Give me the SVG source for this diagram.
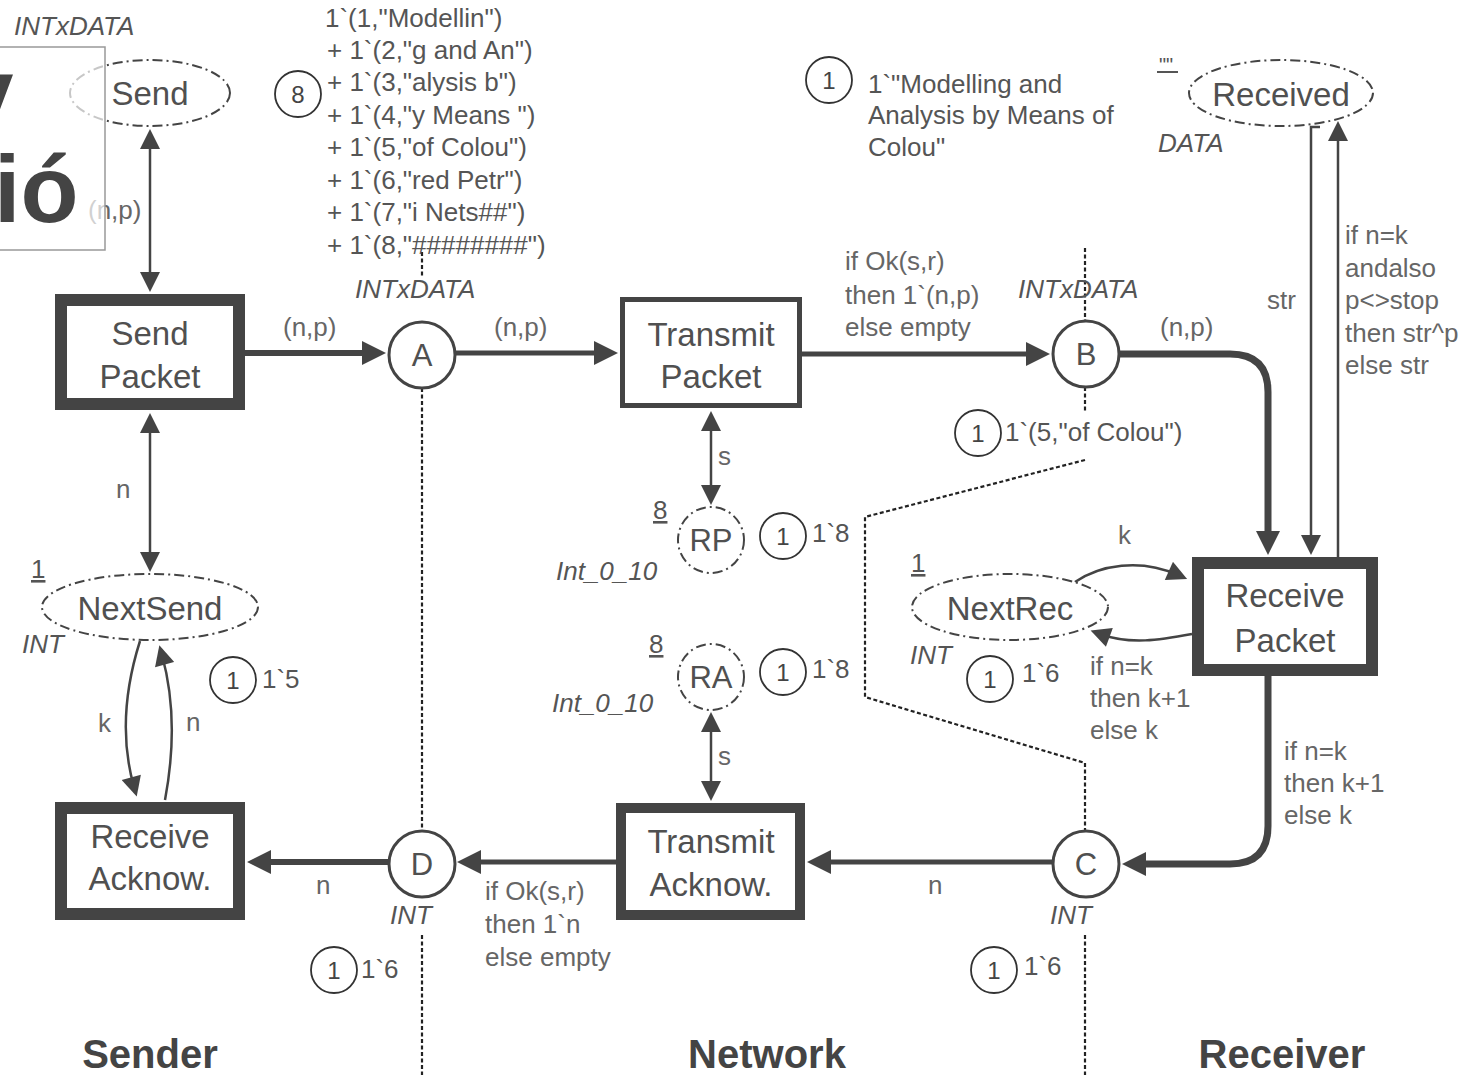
<svg xmlns="http://www.w3.org/2000/svg" width="1475" height="1079" viewBox="0 0 1475 1079">
<style>
text{font-family:"Liberation Sans",Arial,sans-serif;fill:#555}
.nm{font-size:33px;text-anchor:middle;fill:#505050}
.pl{font-size:31px;text-anchor:middle;fill:#505050}
.lb{font-size:26px;fill:#666}
.ty{font-size:26px;font-style:italic;fill:#555}
.tk{font-size:24px;text-anchor:middle;fill:#444}
.mk{font-size:26px;fill:#555}
.hd{font-size:40px;font-weight:bold;text-anchor:middle;fill:#444}
.ul{text-decoration:underline}
.tr{fill:#fff;stroke:#444}
.plc{fill:#fff;stroke:#444;stroke-width:3}
.plx{fill:#fff;stroke:#444;stroke-width:2;stroke-dasharray:10 4 2 4}
.tok{fill:none;stroke:#333;stroke-width:1.8}
.arc{fill:none;stroke:#444}
.dot{fill:none;stroke:#222;stroke-width:2.2;stroke-dasharray:4 2.5}
</style>
<defs>
<marker id="big" viewBox="0 0 10 10" refX="5" refY="5" markerWidth="28" markerHeight="24" markerUnits="userSpaceOnUse" orient="auto-start-reverse"><path d="M0,0 L10,5 L0,10 z" fill="#444"/></marker>
<marker id="sm" viewBox="0 0 10 10" refX="5" refY="5" markerWidth="22" markerHeight="20" markerUnits="userSpaceOnUse" orient="auto-start-reverse"><path d="M0,0 L10,5 L0,10 z" fill="#444"/></marker>
</defs>
<rect width="1475" height="1079" fill="#fff"/>

<g id="dotted">
<path class="dot" d="M422,252 L422,278"/>
<path class="dot" d="M422,388 L422,831"/>
<path class="dot" d="M422,935 L422,1075"/>
<path class="dot" d="M1085,248 L1085,321"/>
<path class="dot" d="M1085,387 L1085,412"/>
<path class="dot" d="M1085,460 L865,517 L865,697 L1085,763 L1085,831"/>
<path class="dot" d="M1085,935 L1085,1075"/>
</g>

<g id="connectors">
<path class="arc" stroke-width="2.5" d="M150,139 L150,282" marker-start="url(#sm)" marker-end="url(#sm)"/>
<path class="arc" stroke-width="2.5" d="M150,423 L150,562" marker-start="url(#sm)" marker-end="url(#sm)"/>
<path class="arc" stroke-width="6" d="M245,353 L374,353" marker-end="url(#big)"/>
<path class="arc" stroke-width="5" d="M455,353 L606,353" marker-end="url(#big)"/>
<path class="arc" stroke-width="5" d="M802,354 L1038,354" marker-end="url(#big)"/>
<path class="arc" stroke-width="7" d="M1119,354 L1230,354 Q1268,354 1268,392 L1268,543" marker-end="url(#big)"/>
<path class="arc" stroke-width="7" d="M1268,676 L1268,826 Q1268,864 1230,864 L1134,864" marker-end="url(#big)"/>
<path class="arc" stroke-width="5" d="M1053,862 L819,862" marker-end="url(#big)"/>
<path class="arc" stroke-width="5" d="M616,862 L469,862" marker-end="url(#big)"/>
<path class="arc" stroke-width="6" d="M389,862 L259,862" marker-end="url(#big)"/>
<path class="arc" stroke-width="2.5" d="M711,421 L711,495" marker-start="url(#sm)" marker-end="url(#sm)"/>
<path class="arc" stroke-width="2.5" d="M711,722 L711,791" marker-start="url(#sm)" marker-end="url(#sm)"/>
<path class="arc" stroke-width="2.5" d="M140,641 Q115,720 134,787" marker-end="url(#sm)"/>
<path class="arc" stroke-width="2.5" d="M165,800 Q180,720 162,655" marker-end="url(#sm)"/>
<path class="arc" stroke-width="2.5" d="M1075,582 C1100,565 1140,558 1178,575" marker-end="url(#sm)"/>
<path class="arc" stroke-width="2.5" d="M1192,634 C1160,640 1130,645 1100,634" marker-end="url(#sm)"/>
<path class="arc" stroke-width="2.5" d="M1320,127 L1311,127 L1311,545" marker-end="url(#sm)"/>
<path class="arc" stroke-width="2.5" d="M1338,557 L1338,131" marker-end="url(#sm)"/>
</g>

<g id="arc-labels">
<text class="lb" x="88" y="219">(n,p)</text>
<text class="lb" x="116" y="498">n</text>
<text class="lb" x="98" y="732">k</text>
<text class="lb" x="186" y="731">n</text>
<text class="lb" x="283" y="336">(n,p)</text>
<text class="lb" x="494" y="336">(n,p)</text>
<text class="lb" x="845" y="270">if Ok(s,r)</text>
<text class="lb" x="845" y="304">then 1`(n,p)</text>
<text class="lb" x="845" y="336">else empty</text>
<text class="lb" x="1160" y="336">(n,p)</text>
<text class="lb" x="718" y="465">s</text>
<text class="lb" x="718" y="765">s</text>
<text class="lb" x="1118" y="544">k</text>
<text class="lb" x="1090" y="675">if n=k</text>
<text class="lb" x="1090" y="707">then k+1</text>
<text class="lb" x="1090" y="739">else k</text>
<text class="lb" x="1284" y="760">if n=k</text>
<text class="lb" x="1284" y="792">then k+1</text>
<text class="lb" x="1284" y="824">else k</text>
<text class="lb" x="928" y="894">n</text>
<text class="lb" x="485" y="900">if Ok(s,r)</text>
<text class="lb" x="485" y="933">then 1`n</text>
<text class="lb" x="485" y="966">else empty</text>
<text class="lb" x="316" y="894">n</text>
<text class="lb" x="1267" y="309">str</text>
<text class="lb" x="1345" y="244">if n=k</text>
<text class="lb" x="1345" y="277">andalso</text>
<text class="lb" x="1345" y="309">p&lt;&gt;stop</text>
<text class="lb" x="1345" y="342">then str^p</text>
<text class="lb" x="1345" y="374">else str</text>
</g>

<g id="send-packet"><rect class="tr" x="61" y="300" width="178" height="104" stroke-width="12"/><text class="nm" x="150" y="345">Send</text><text class="nm" x="150" y="388">Packet</text></g>
<g id="transmit-packet"><rect class="tr" x="622.5" y="299.5" width="177" height="106" stroke-width="5"/><text class="nm" x="711" y="346">Transmit</text><text class="nm" x="711" y="388">Packet</text></g>
<g id="receive-packet"><rect class="tr" x="1198" y="563" width="174" height="107" stroke-width="12"/><text class="nm" x="1285" y="607">Receive</text><text class="nm" x="1285" y="652">Packet</text></g>
<g id="receive-acknow"><rect class="tr" x="61" y="808" width="178" height="106" stroke-width="12"/><text class="nm" x="150" y="848">Receive</text><text class="nm" x="150" y="890">Acknow.</text></g>
<g id="transmit-acknow"><rect class="tr" x="621" y="808" width="179" height="107" stroke-width="10"/><text class="nm" x="711" y="853">Transmit</text><text class="nm" x="711" y="896">Acknow.</text></g>

<g id="place-send"><ellipse class="plx" cx="150" cy="93" rx="80" ry="33"/><text class="nm" x="150" y="105">Send</text><text class="ty" x="14" y="35">INTxDATA</text></g>
<g id="place-nextsend"><ellipse class="plx" cx="150" cy="607" rx="108" ry="33"/><text class="nm" x="150" y="620">NextSend</text><text class="mk ul" x="31" y="578">1</text><text class="ty" x="22" y="653">INT</text>
<circle class="tok" cx="233" cy="680" r="23"/><text class="tk" x="233" y="689">1</text><text class="mk" x="262" y="688">1`5</text></g>
<g id="place-A"><circle class="plc" cx="422" cy="355" r="33"/><text class="pl" x="422" y="366">A</text><text class="ty" x="355" y="298">INTxDATA</text>
<circle class="tok" cx="298" cy="94" r="23"/><text class="tk" x="298" y="103">8</text>
<text class="mk" x="325" y="27">1`(1,"Modellin")</text>
<text class="mk" x="327" y="59">+ 1`(2,"g and An")</text>
<text class="mk" x="327" y="91">+ 1`(3,"alysis b")</text>
<text class="mk" x="327" y="124">+ 1`(4,"y Means ")</text>
<text class="mk" x="327" y="156">+ 1`(5,"of Colou")</text>
<text class="mk" x="327" y="189">+ 1`(6,"red Petr")</text>
<text class="mk" x="327" y="221">+ 1`(7,"i Nets##")</text>
<text class="mk" x="327" y="254">+ 1`(8,"########")</text></g>
<g id="place-B"><circle class="plc" cx="1086" cy="354" r="33"/><text class="pl" x="1086" y="365">B</text><text class="ty" x="1018" y="298">INTxDATA</text>
<circle class="tok" cx="978" cy="433" r="23"/><text class="tk" x="978" y="442">1</text><text class="mk" x="1005" y="441">1`(5,"of Colou")</text></g>
<g id="place-C"><circle class="plc" cx="1086" cy="864" r="33"/><text class="pl" x="1086" y="875">C</text><text class="ty" x="1050" y="924">INT</text>
<circle class="tok" cx="994" cy="970" r="23"/><text class="tk" x="994" y="979">1</text><text class="mk" x="1024" y="975">1`6</text></g>
<g id="place-D"><circle class="plc" cx="422" cy="864" r="33"/><text class="pl" x="422" y="875">D</text><text class="ty" x="390" y="924">INT</text>
<circle class="tok" cx="334" cy="970" r="23"/><text class="tk" x="334" y="979">1</text><text class="mk" x="361" y="978">1`6</text></g>
<g id="place-RP"><circle class="plx" cx="711" cy="540" r="33"/><text class="pl" x="711" y="551">RP</text><text class="mk ul" x="653" y="519">8</text><text class="ty" x="556" y="580">Int_0_10</text>
<circle class="tok" cx="783" cy="536" r="23"/><text class="tk" x="783" y="545">1</text><text class="mk" x="812" y="542">1`8</text></g>
<g id="place-RA"><circle class="plx" cx="711" cy="677" r="33"/><text class="pl" x="711" y="688">RA</text><text class="mk ul" x="649" y="653">8</text><text class="ty" x="552" y="712">Int_0_10</text>
<circle class="tok" cx="783" cy="672" r="23"/><text class="tk" x="783" y="681">1</text><text class="mk" x="812" y="678">1`8</text></g>
<g id="place-nextrec"><ellipse class="plx" cx="1010" cy="607" rx="98" ry="33"/><text class="nm" x="1010" y="620">NextRec</text><text class="mk ul" x="911" y="572">1</text><text class="ty" x="910" y="664">INT</text>
<circle class="tok" cx="990" cy="679" r="23"/><text class="tk" x="990" y="688">1</text><text class="mk" x="1022" y="682">1`6</text></g>
<g id="place-received"><ellipse class="plx" cx="1281" cy="93" rx="92" ry="33"/><text class="nm" x="1281" y="106">Received</text><text class="ty" x="1158" y="152">DATA</text>
<text class="mk" x="1159" y="72" style="font-size:20px">""</text><line x1="1157" y1="72" x2="1178" y2="72" stroke="#555" stroke-width="2"/>
<circle class="tok" cx="829" cy="80" r="23"/><text class="tk" x="829" y="89">1</text>
<text class="mk" x="868" y="93">1`"Modelling and</text>
<text class="mk" x="868" y="124">Analysis by Means of</text>
<text class="mk" x="868" y="156">Colou"</text></g>

<g id="sections">
<text class="hd" x="150" y="1068">Sender</text>
<text class="hd" x="767" y="1068">Network</text>
<text class="hd" x="1282" y="1068">Receiver</text>
</g>

<g id="overlay">
<rect x="-2" y="47" width="107" height="203" fill="#fff" fill-opacity="0.7" stroke="#999" stroke-width="1.5"/>
<text x="-41" y="127" style="font-size:98px;font-weight:bold;fill:#444">y</text>
<text x="-6" y="222" style="font-size:95px;font-weight:bold;fill:#444">ió</text>
</g>
</svg>
